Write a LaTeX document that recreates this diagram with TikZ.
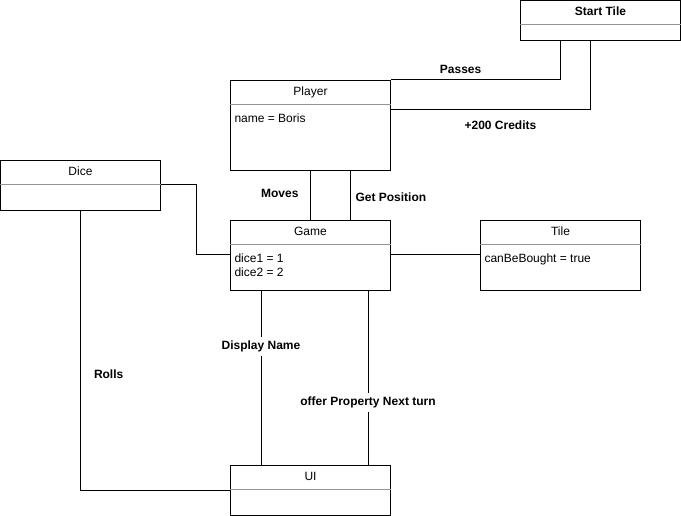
\documentclass[tikz,border=0pt]{standalone}
\usepackage{fontspec}
\setmainfont{Liberation Sans}
\begin{document}
\begin{tikzpicture}[x=1pt,y=-1pt,line width=1pt,
    font=\fontsize{12pt}{14pt}\selectfont,
    classbox/.style={draw,minimum width=160pt,anchor=north west,inner sep=0pt},
    attr/.style={anchor=base west,inner sep=0pt},
    lbl/.style={font=\fontsize{12pt}{14pt}\selectfont\bfseries,fill=white,inner sep=1pt}]
    \useasboundingbox (0,0) rectangle (681,516);
    % classes
    \foreach \n/\x/\y/\h/\t in {start/520/0/40/\bfseries Start Tile, player/230/80/90/Player,
        dice/0/160/50/Dice, game/230/220/70/Game, tile/480/220/70/Tile, ui/230/465/50/UI} {
        \node[classbox,minimum height=\h] (\n) at (\x,\y) {};
        \node[anchor=base,inner sep=0pt] (\n-title) at ([yshift=-15.5pt]\n.north) {\t};
        \draw[gray!85,line width=0.8pt] ([yshift=-24pt]\n.north west) -- ([yshift=-24pt]\n.north east);
    }
    \node[attr] (player-name) at ([shift={(4pt,-42.5pt)}]player.north west) {name = Boris};
    \node[attr] (game-dice1) at ([shift={(4pt,-42.5pt)}]game.north west) {dice1 = 1};
    \node[attr] (game-dice2) at ([shift={(4pt,-56.5pt)}]game.north west) {dice2 = 2};
    \node[attr] (tile-buy) at ([shift={(4pt,-42.5pt)}]tile.north west) {canBeBought = true};
    % relations
    \draw (player.north east) -| ([xshift=40pt]start.south west)
        node[lbl,pos=0.206,above=5pt] {Passes};
    \draw ([yshift=-30pt]player.north east) -| ([xshift=70pt]start.south west)
        node[lbl,pos=0.275,below=9pt] {+200 Credits};
    \draw ([xshift=80pt]player.south west) -- ([xshift=80pt]game.north west)
        node[lbl,pos=0.46,left=10pt] {Moves};
    \draw ([xshift=120pt]player.south west) -- ([xshift=120pt]game.north west)
        node[lbl,pos=0.54,right=4pt] {Get Position};
    \draw ([yshift=-25pt]dice.north east) -- ++(35,0) |- ([yshift=-35pt]game.north west);
    \draw ([yshift=-35pt]game.north east) -- ([yshift=-35pt]tile.north west);
    \draw (dice.south) |- ([yshift=-25pt]ui.north west)
        node[lbl,pos=0.293,right=12pt] {Rolls};
    \draw ([xshift=31pt]game.south west) -- ([xshift=31pt]ui.north west)
        node[lbl,pos=0.32,inner sep=4pt] {Display Name};
    \draw ([xshift=138pt]game.south west) -- ([xshift=138pt]ui.north west)
        node[lbl,pos=0.64,inner sep=4pt] {offer Property Next turn};
\end{tikzpicture}
\end{document}
